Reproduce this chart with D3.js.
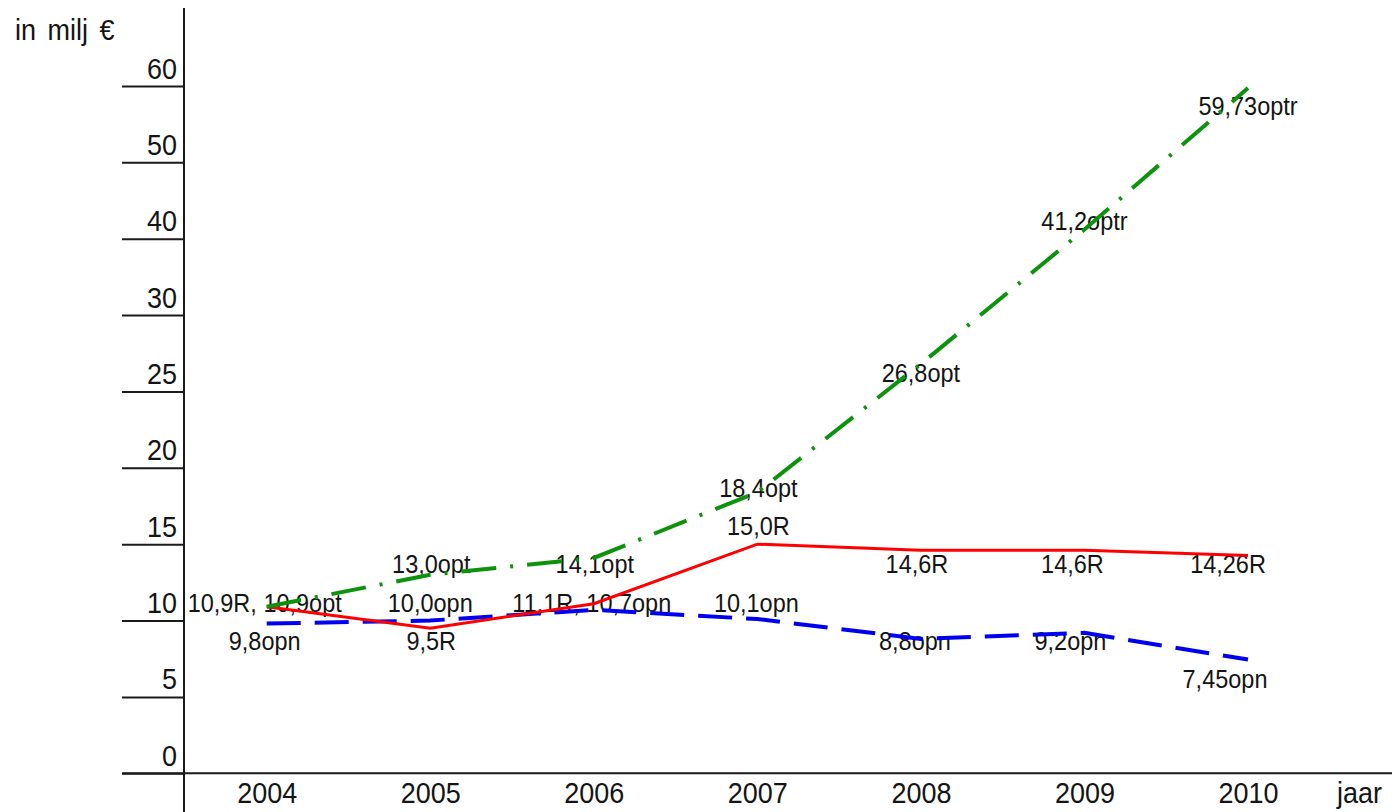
<!DOCTYPE html>
<html>
<head>
<meta charset="utf-8">
<script src="https://cdn.jsdelivr.net/npm/d3@7"></script>
<style>
  html, body { margin: 0; padding: 0; background: #fff; }
  svg { display: block; }
  text { font-family: "Liberation Sans", Arial, sans-serif; fill: #141414; }
</style>
</head>
<body>
<svg id="chart" width="1392" height="812"></svg>
<script>
// ---- data ----
const years = ["2004", "2005", "2006", "2007", "2008", "2009", "2010"];
const valuesR   = [10.9, 9.5, 11.1, 15.0, 14.6, 14.6, 14.26];
const valuesOpn = [9.8, 10.0, 10.7, 10.1, 8.8, 9.2, 7.45];
const valuesOpt = [10.9, 13.0, 14.1, 18.4, 26.8, 41.2, 59.73];
const yTicks = [0, 5, 10, 15, 20, 25, 30, 40, 50, 60];
const yTitle = "in milj €";
const xTitle = "jaar";

// data labels (text, year they belong to, value row they sit on)
const labelTexts = ["10,9R, 10,9opt", "9,8opn", "13,0opt", "10,0opn", "9,5R", "14,1opt",
  "11,1R, 10,7opn", "15,0R", "10,1opn", "18,4opt", "26,8opt", "41,2optr", "59,73optr",
  "14,6R", "14,6R", "14,26R", "8,8opn", "9,2opn", "7,45opn"];
const labelYears = ["2004", "2004", "2005", "2005", "2005", "2006",
  "2006", "2007", "2007", "2007", "2008", "2009", "2010",
  "2008", "2009", "2010", "2008", "2009", "2010"];
const labelRows = [10, 7.5, 12.5, 10, 7.5, 12.5,
  10, 15, 10, 17.5, 25, 40, 55,
  12.5, 12.5, 12.5, 7.5, 7.5, 5];
// layout nudges (px) for labels
const labelDx = [-2, -2, 1, 0, 1, 1, -2, 1, -1, 1, 0, 0, 0, -4, -12, -20, -6, -14, -23];

// ---- layout ----
const svg = d3.select("#chart");
const axisX = 184;
const tickLen = 62;

const x = d3.scalePoint().domain(years).range([266.7, 1248]);
// axis is broken: 5-unit steps up to 30, then 10-unit steps
const y = d3.scaleLinear().domain([0, 30, 60]).range([773.3, 315.1, 86]);

const axisFont = 27, axisScaleY = 1.12;
const labelFont = 23.5, labelScaleY = 1.1;

// data labels (drawn below the lines)
const gl = svg.append("g");
labelTexts.forEach((t, i) => {
  gl.append("text")
    .attr("text-anchor", "middle")
    .attr("font-size", labelFont)
    .attr("transform", `translate(${x(labelYears[i]) + labelDx[i]},${y(labelRows[i]) - 9}) scale(1,${labelScaleY})`)
    .text(t);
});

// y axis
const yAxis = d3.axisLeft(y).tickValues(yTicks).tickSize(tickLen).tickFormat(d3.format("d"));
const gy = svg.append("g").attr("transform", `translate(${axisX},0)`).call(yAxis);
gy.select(".domain").remove();
gy.selectAll(".tick line").attr("stroke", "#1a1a1a").attr("stroke-width", 2);
gy.selectAll(".tick text")
  .attr("x", null).attr("dy", null)
  .attr("text-anchor", "end")
  .attr("font-size", axisFont)
  .attr("font-family", "Liberation Sans, Arial, sans-serif")
  .attr("fill", "#141414")
  .attr("transform", `translate(-7,-8) scale(1,${axisScaleY})`);

// x axis
const xAxis = d3.axisBottom(x).tickSize(0);
const gx = svg.append("g").attr("transform", `translate(0,${y(0)})`).call(xAxis);
gx.select(".domain").remove();
gx.selectAll(".tick text")
  .attr("y", null).attr("dy", null)
  .attr("font-size", axisFont)
  .attr("font-family", "Liberation Sans, Arial, sans-serif")
  .attr("fill", "#141414")
  .attr("transform", `translate(0,30) scale(1,${axisScaleY})`);

// axis lines
svg.append("line")
  .attr("x1", axisX).attr("x2", axisX).attr("y1", 8).attr("y2", 812)
  .attr("stroke", "#1a1a1a").attr("stroke-width", 2);
svg.append("line")
  .attr("x1", axisX - tickLen).attr("x2", 1392).attr("y1", y(0)).attr("y2", y(0))
  .attr("stroke", "#1a1a1a").attr("stroke-width", 2);

// titles
svg.append("text")
  .attr("font-size", axisFont)
  .attr("word-spacing", 4)
  .attr("transform", `translate(15,40) scale(1,${axisScaleY})`)
  .text(yTitle);
svg.append("text")
  .attr("font-size", axisFont)
  .attr("transform", `translate(1337,803) scale(1,${axisScaleY})`)
  .text(xTitle);

// lines
const line = d3.line().x((d, i) => x(years[i])).y(d => y(d));
svg.append("path").datum(valuesOpn)
  .attr("d", line).attr("fill", "none")
  .attr("stroke", "#0000f0").attr("stroke-width", 4)
  .attr("stroke-dasharray", "34,14");
svg.append("path").datum(valuesR)
  .attr("d", line).attr("fill", "none")
  .attr("stroke", "#ff0000").attr("stroke-width", 3);
svg.append("path").datum(valuesOpt)
  .attr("d", line).attr("fill", "none")
  .attr("stroke", "#0b930b").attr("stroke-width", 4)
  .attr("stroke-dasharray", "35,14,3,14");
</script>
</body>
</html>
